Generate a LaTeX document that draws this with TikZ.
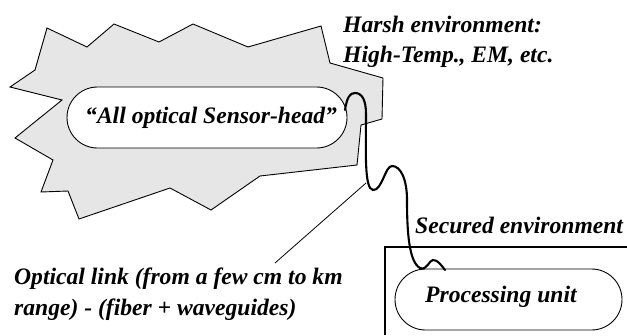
\documentclass[tikz,border=0pt]{standalone}
\usepackage{fontspec}
\setmainfont{Liberation Serif}
\usetikzlibrary{shapes.misc}
\definecolor{harshgray}{RGB}{230,230,230}
\tikzset{
  lbl/.style={inner sep=0pt, anchor=base west, font=\fontsize{23.6}{30}\selectfont\bfseries\itshape},
  capsule/.style={rounded rectangle, draw=black, line width=0.9pt, fill=white, inner sep=0pt},
  fiber/.style={line width=2.1pt, line cap=round},
  pointer/.style={line width=0.8pt},
  wall/.style={line width=2.2pt},
  burst/.style={draw=black, line width=0.9pt, fill=harshgray, line join=miter}
}
\begin{document}
\begin{tikzpicture}[x=1pt,y=-1pt]
\useasboundingbox (0,0) rectangle (627,335);
% harsh environment starburst
\draw[burst] (47,28) -- (87,47) -- (114,24) -- (159,42) -- (193,24) -- (248,47) -- (321,26)
  -- (330,63) -- (383,78) -- (382,119) -- (361,125) -- (357,165) -- (260,176) -- (211,210)
  -- (170,188) -- (79,219) -- (68,191) -- (41,192) -- (53,160) -- (15,138) -- (62,100)
  -- (10,87) -- (35,70) -- cycle;
% secured environment wall
\draw[wall] (385,335) -- (385,247) -- (628,247);
% capsules
\node[capsule, minimum width=280pt, minimum height=61pt] (sensor) at (207,117.5) {};
\node[capsule, minimum width=227pt, minimum height=61pt] (proc) at (508.5,299.5) {};
% texts
\node[lbl] (sensortxt) at (85,123) {“All optical Sensor-head”};
\node[lbl] (proctxt) at (425,302) {Processing unit};
\node[lbl] (harsh1) at (343,32) {Harsh environment:};
\node[lbl] (harsh2) at (343,62) {High-Temp., EM, etc.};
\node[lbl] (secured) at (415,233) {Secured environment};
\node[lbl] (link1) at (14,284) {Optical link (from a few cm to km};
\node[lbl] (link2) at (14,315) {range) - (fiber + waveguides)};
% fiber
\coordinate (fs) at (345,110);
\coordinate (fe) at (445,270);
\draw[fiber] (fs) .. controls (347,97) and (350,93) .. (355,93)
  .. controls (362,93) and (366,100) .. (366,114)
  .. controls (366,150) and (364,189) .. (373,190)
  .. controls (382,191) and (385,166) .. (392,166)
  .. controls (401,166) and (407,180) .. (407,200)
  .. controls (407,232) and (409,262) .. (420,268)
  .. controls (427,271) and (429,260) .. (433,260)
  .. controls (438,260) and (441,265) .. (fe);
% pointer
\coordinate (pa) at (275,263);
\coordinate (pb) at (366,183);
\draw[pointer] (pa) -- (pb);
\end{tikzpicture}
\end{document}
